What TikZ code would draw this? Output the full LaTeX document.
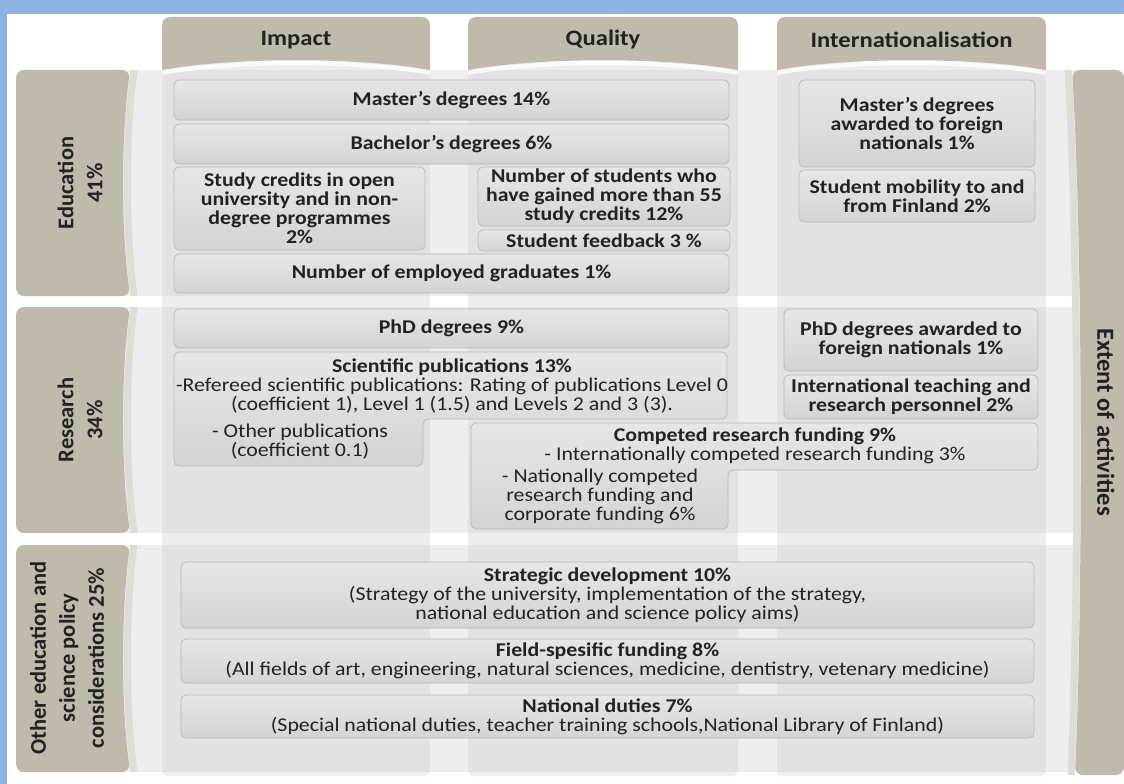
\documentclass[tikz,border=0pt]{standalone}
\usepackage{fontspec}
\setmainfont{Carlito}[FakeStretch=1.12]
\newfontfamily\sidefamily{Carlito}
\usepackage{tikz}
\usetikzlibrary{positioning}
\definecolor{frameblue}{RGB}{141,180,226}
\definecolor{tabtan}{RGB}{191,186,172}
\definecolor{tanedge}{RGB}{222,220,214}
\definecolor{stripgray}{RGB}{200,200,202}
\definecolor{boxtop}{RGB}{230,230,232}
\definecolor{boxbot}{RGB}{212,212,214}
\definecolor{boxline}{RGB}{186,186,188}
\definecolor{txt}{RGB}{34,34,34}
\newcommand{\itemsize}{\fontsize{19.5}{19}\selectfont}
\newcommand{\hdrsize}{\fontsize{22}{26}\selectfont\bfseries}
\newcommand{\sidesize}{\sidefamily\bfseries\fontsize{22.5}{29}\selectfont}
\newcommand{\extentsize}{\sidefamily\bfseries\fontsize{24.5}{29}\selectfont}
\tikzset{
    tab/.style={fill=tabtan},
    tabrim/.style={draw=tanedge, line width=7pt},
    strip/.style={fill=stripgray, fill opacity=0.3},
    item/.style={draw=boxline, line width=0.8pt, rounded corners=5pt, top color=boxtop, bottom color=boxbot, text=txt, align=center, font=\itemsize, inner sep=0pt},
    itemb/.style={item, font=\itemsize\bfseries},
    note/.style={text=txt, align=center, font=\itemsize, inner sep=0pt},
    hdr/.style={text=txt, font=\hdrsize},
    vlabel/.style={text=txt, align=center, font=\sidesize},
}

\begin{document}
\begin{tikzpicture}[x=1pt, y=-1pt]
    \useasboundingbox (0,0) rectangle (1124,784);
    \fill[white] (0,0) rectangle (1124,784);
    \fill[frameblue] (0,0) rectangle (1124,14);
    \fill[frameblue] (0,0) rectangle (7,784);
    \foreach \l/\r in {162/430, 468/738, 777/1046}
        \fill[strip, rounded corners=6pt] (\l,62) rectangle (\r,776);
    \foreach \t/\b in {70/296, 307/533, 545/772}{
        \fill[strip] (20,\t) rectangle (1090,\b);
        \draw[tabrim] (134,\t) .. controls (125,{\t+70}) and (125,{\b-70}) .. (134,\b);
        \fill[tab, rounded corners=8pt] (130,\t) .. controls (121,{\t+70}) and (121,{\b-70}) .. (130,\b) -- (16,\b) -- (16,\t) -- cycle;
    }
    \foreach \l/\r/\c/\t in {162/430/296/Impact, 468/738/603/Quality, 777/1046/911.5/Internationalisation}{
        \fill[tab] (\l,70) [rounded corners=8pt] -- (\l,17) -- (\r,17) [sharp corners] -- (\r,70) .. controls ({\r-70},57) and ({\l+70},57) .. (\l,70) -- cycle;
        \draw[white, line width=4pt, opacity=0.8] (\l,73) .. controls ({\l+70},60) and ({\r-70},60) .. (\r,73);
        \node[hdr] (head\t) at (\c,40) {\t};
    }
    \draw[tabrim] (1068,70) .. controls (1079,250) and (1079,600) .. (1071,775);
    \fill[tab, rounded corners=8pt] (1072,70) .. controls (1083,250) and (1083,600) .. (1075,775) -- (1124,775) -- (1124,70) -- cycle;

    \node[vlabel, rotate=90] (edu) at (80,183) {Education\\41\%};
    \node[vlabel, rotate=90] (res) at (80,420) {Research\\34\%};
    \node[vlabel, rotate=90] (other) at (67,658) {Other education and\\science policy\\considerations 25\%};
    \node[vlabel, rotate=-90, font=\extentsize] (extent) at (1106,422) {Extent of activities};

    \node[itemb, minimum width=555pt, minimum height=40pt] (mast) at (451.5,100) {Master’s degrees 14\%};
    \node[itemb, minimum width=555pt, minimum height=40pt] (bach) at (451.5,144) {Bachelor’s degrees 6\%};
    \node[itemb, minimum width=251pt, minimum height=83pt] (cred) at (299.5,208.5) {Study credits in open\\university and in non-\\degree programmes\\2\%};
    \node[itemb, minimum width=252pt, minimum height=59pt] (pass) at (604,196.5) {Number of students who\\have gained more than 55\\study credits 12\%};
    \node[itemb, minimum width=252pt, minimum height=21pt] (fdbk) at (604,240.5) {Student feedback 3 \%};
    \node[itemb, minimum width=555pt, minimum height=39pt] (empl) at (451.5,273.5) {Number of employed graduates 1\%};
    \node[itemb, minimum width=236pt, minimum height=87pt] (fmast) at (917,123.5) {Master’s degrees\\awarded to foreign\\nationals 1\%};
    \node[itemb, minimum width=236pt, minimum height=52pt] (mobil) at (917,196) {Student mobility to and\\from Finland 2\%};

    \node[itemb, minimum width=555pt, minimum height=39pt] (phd) at (451.5,328.5) {PhD degrees 9\%};
    \node[itemb, minimum width=254pt, minimum height=62pt] (fphd) at (911,340) {PhD degrees awarded to\\foreign nationals 1\%};
    \node[itemb, minimum width=254pt, minimum height=44pt] (staff) at (911,397) {International teaching and\\research personnel 2\%};
    \draw[item] (174,352) -- (727,352) -- (727,419) -- (423,419) -- (423,466) -- (174,466) -- cycle;
    \node[note] (pubhead) at (452,386) {\textbf{Scientific publications 13\%}\\-Refereed scientific publications: Rating of publications Level 0\\(coefficient 1), Level 1 (1.5) and Levels 2 and 3 (3).};
    \node[note] (pubother) at (300,442) {- Other publications\\(coefficient 0.1)};
    \draw[item] (471,423) -- (1038,423) -- (1038,470) -- (728,470) -- (728,529) -- (471,529) -- cycle;
    \node[note] (fundhead) at (755,446) {\textbf{Competed research funding 9\%}\\- Internationally competed research funding 3\%};
    \node[note] (fundnat) at (600,496) {- Nationally competed\\research funding and\\corporate funding 6\%};

    \node[item, minimum width=853pt, minimum height=66pt] (strat) at (607.5,595) {\textbf{Strategic development 10\%}\\(Strategy of the university, implementation of the strategy,\\national education and science policy aims)};
    \node[item, minimum width=853pt, minimum height=44pt] (field) at (607.5,661) {\textbf{Field-spesific funding 8\%}\\(All fields of art, engineering, natural sciences, medicine, dentistry, vetenary medicine)};
    \node[item, minimum width=853pt, minimum height=43pt] (duty) at (607.5,716.5) {\textbf{National duties 7\%}\\(Special national duties, teacher training schools,National Library of Finland)};
\end{tikzpicture}
\end{document}
